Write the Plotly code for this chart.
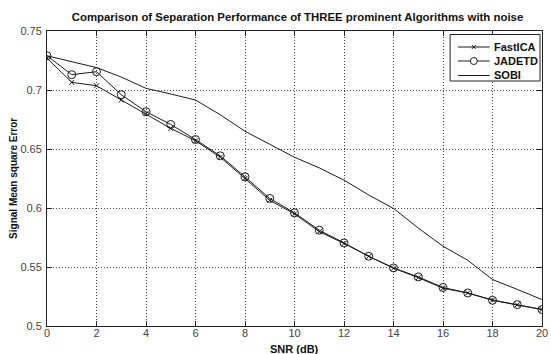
import plotly.graph_objects as go

snr_db = list(range(0, 21))

fastica = [0.727, 0.7065, 0.7036, 0.6915, 0.680, 0.6675, 0.657, 0.643, 0.625, 0.6065,
           0.595, 0.580, 0.570, 0.559, 0.549, 0.541, 0.532, 0.528, 0.522, 0.518, 0.514]
jadetd = [0.729, 0.713, 0.7155, 0.696, 0.6816, 0.6708, 0.658, 0.6442, 0.6264, 0.6081,
          0.5959, 0.5812, 0.5704, 0.5591, 0.5492, 0.5416, 0.5326, 0.528, 0.5218, 0.5181, 0.5139]
sobi = [0.729, 0.724, 0.719, 0.711, 0.7014, 0.6966, 0.6915, 0.679, 0.665, 0.654,
        0.643, 0.634, 0.6236, 0.611, 0.5996, 0.583, 0.5676, 0.5557, 0.5394, 0.531, 0.5224]

series_names = ["FastICA", "JADETD", "SOBI"]

x_ticks = list(range(0, 21, 2))
y_ticks = [0.5, 0.55, 0.6, 0.65, 0.7, 0.75]
y_tick_text = ["0.5", "0.55", "0.6", "0.65", "0.7", "0.75"]

W, H = 551, 354
ML, MR, MT, MB = 47, 3, 31, 28
PW, PH = W - ML - MR, H - MT - MB
LINE = "#1a1a1a"
FONT = "Liberation Sans"


def px_x(p):
    """Horizontal pixel position -> paper fraction."""
    return (p - ML) / PW


def px_y(p):
    """Vertical pixel position (from top) -> paper fraction."""
    return 1 - (p - MT) / PH


fig = go.Figure()
fig.add_trace(go.Scatter(
    x=snr_db, y=fastica, name=series_names[0], mode="lines+markers",
    line=dict(color=LINE, width=1),
    marker=dict(symbol="x-thin-open", size=5, color=LINE, line=dict(color=LINE, width=1)),
))
fig.add_trace(go.Scatter(
    x=snr_db, y=jadetd, name=series_names[1], mode="lines+markers",
    line=dict(color=LINE, width=1),
    marker=dict(symbol="circle-open", size=8, color=LINE, line=dict(color=LINE, width=1)),
))
fig.add_trace(go.Scatter(
    x=snr_db, y=sobi, name=series_names[2], mode="lines",
    line=dict(color=LINE, width=1),
))

axis_common = dict(
    showline=True, linecolor="#222", linewidth=1, mirror="ticks",
    ticks="inside", ticklen=5, tickcolor="#222",
    showgrid=True, gridcolor="#444", griddash="1px,2px", gridwidth=1,
    zeroline=False, ticklabeloverflow="allow",
    tickfont=dict(family=FONT, size=11, color="#444"),
)

fig.update_layout(
    width=W, height=H,
    margin=dict(l=ML, r=MR, t=MT, b=MB),
    paper_bgcolor="white", plot_bgcolor="white",
    showlegend=False,
    xaxis=dict(range=[0, 20], tickvals=x_ticks, ticklabelstandoff=-3, **axis_common),
    yaxis=dict(range=[0.5, 0.75], tickvals=y_ticks, ticktext=y_tick_text,
               ticklabelstandoff=2, **axis_common),
    title=dict(
        text="Comparison of Separation Performance of THREE prominent Algorithms with noise",
        x=(ML + (W - MR)) / 2 / W, xanchor="center",
        y=1 - 17 / H, yanchor="middle", yref="container",
        font=dict(family=FONT, size=11.4, color="#111", weight="bold"),
    ),
)

fig.add_annotation(
    text="SNR (dB)", xref="paper", yref="paper",
    x=0.5, y=px_y(349), xanchor="center", yanchor="middle",
    showarrow=False, font=dict(family=FONT, size=11, color="#111", weight="bold"),
)
fig.add_annotation(
    text="Signal Mean square Error", xref="paper", yref="paper",
    x=px_x(13), y=0.5, xanchor="center", yanchor="middle",
    textangle=-90, showarrow=False,
    font=dict(family=FONT, size=10, color="#111", weight="bold"),
)

# Boxed legend in the upper-right corner of the axes
legend_box = dict(x0=455, x1=546, y0=34.5, y1=81)
row_y = [47, 61, 75.5]
sample_x0, sample_x1, text_x = 463, 495, 497.5
fig.add_shape(
    type="rect", xref="paper", yref="paper",
    x0=px_x(legend_box["x0"]), x1=px_x(legend_box["x1"]),
    y0=px_y(legend_box["y0"]), y1=px_y(legend_box["y1"]),
    line=dict(color="#222", width=1), fillcolor="white", layer="above",
)
for name, ry in zip(series_names, row_y):
    fig.add_shape(
        type="line", xref="paper", yref="paper",
        x0=px_x(sample_x0), x1=px_x(sample_x1), y0=px_y(ry), y1=px_y(ry),
        line=dict(color=LINE, width=1), layer="above",
    )
    fig.add_annotation(
        text=name, xref="paper", yref="paper", x=px_x(text_x), y=px_y(ry),
        xanchor="left", yanchor="middle", showarrow=False,
        font=dict(family=FONT, size=11, color="#111", weight="bold"),
    )

mid = (sample_x0 + sample_x1) / 2
# cross marker for the first entry
for d in (1, -1):
    fig.add_shape(
        type="line", xref="paper", yref="paper",
        x0=px_x(mid - 2), x1=px_x(mid + 2),
        y0=px_y(row_y[0] - 2 * d), y1=px_y(row_y[0] + 2 * d),
        line=dict(color=LINE, width=1), layer="above",
    )
# open circle marker for the second entry
fig.add_shape(
    type="circle", xref="paper", yref="paper",
    x0=px_x(mid - 3.5), x1=px_x(mid + 3.5),
    y0=px_y(row_y[1] - 3.5), y1=px_y(row_y[1] + 3.5),
    line=dict(color=LINE, width=1), fillcolor="white", layer="above",
)

fig.write_html("out.html")
